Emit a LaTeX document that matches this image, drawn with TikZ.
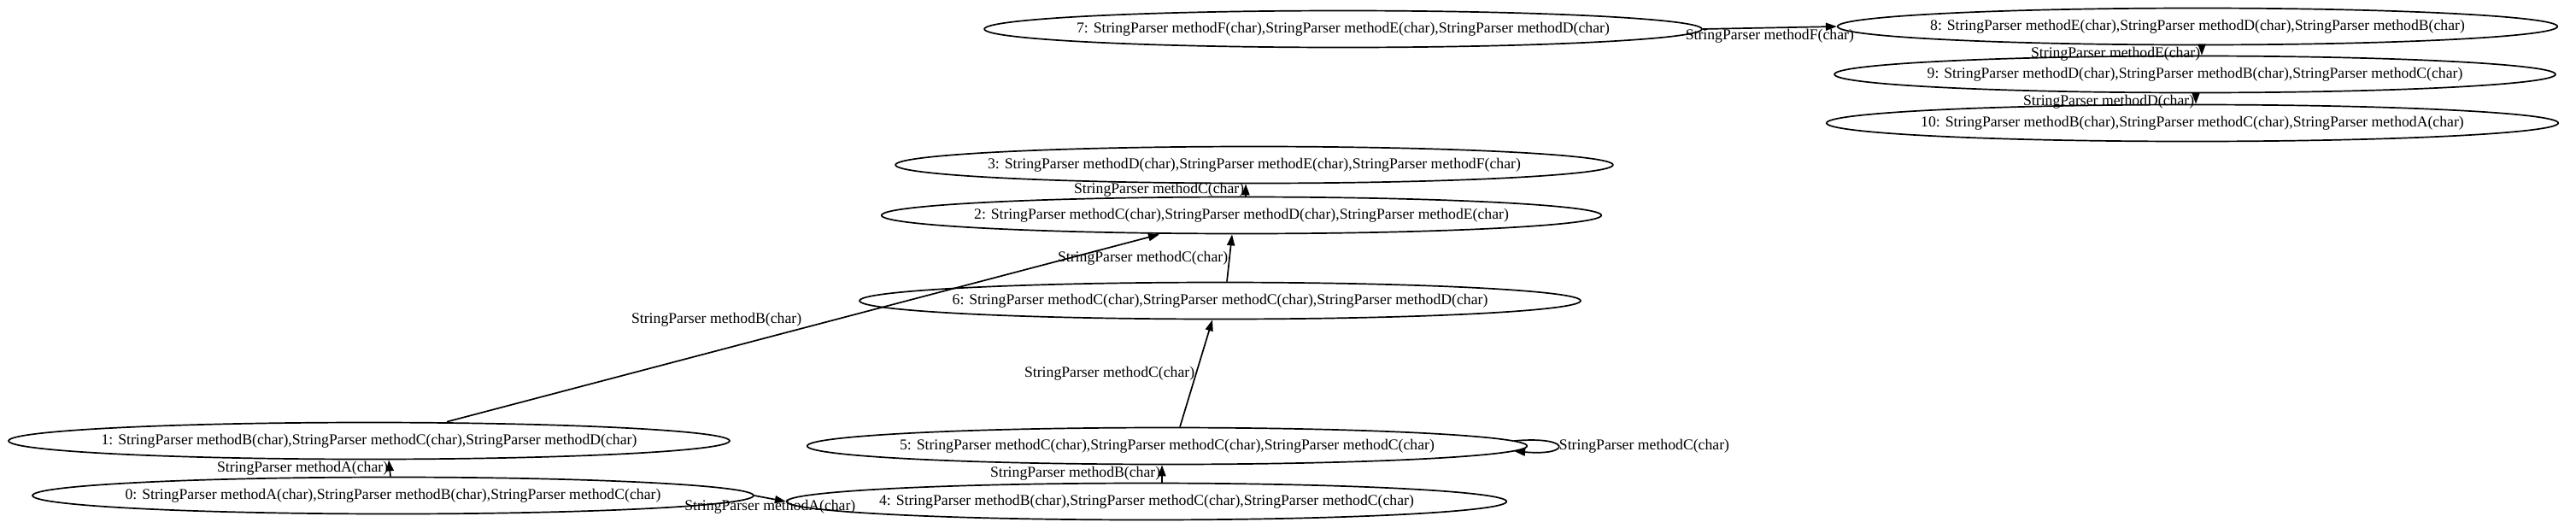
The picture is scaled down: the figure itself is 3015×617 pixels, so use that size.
\documentclass[tikz,border=0pt]{standalone}
\usepackage{fontspec}
\setmainfont{Liberation Serif}
\usetikzlibrary{arrows.meta,shapes.geometric}

\begin{document}
\begin{tikzpicture}[x=0.5pt,y=-0.5pt,line width=0.85pt,>={Triangle[length=6.5pt,width=4.5pt]},
  state/.style={draw,ellipse,minimum height=21.5pt,inner xsep=-7.5pt,inner ysep=0pt,font=\fontsize{8.85}{10}\selectfont},
  lbl/.style={inner sep=0.5pt,font=\fontsize{8.85}{10}\selectfont}]
  \useasboundingbox (0,0) rectangle (3015,617);
  % states
  \node[state] (n0) at (460,580) {0: StringParser methodA(char),StringParser methodB(char),StringParser methodC(char)};
  \node[state] (n1) at (432,516) {1: StringParser methodB(char),StringParser methodC(char),StringParser methodD(char)};
  \node[state] (n2) at (1453,252) {2: StringParser methodC(char),StringParser methodD(char),StringParser methodE(char)};
  \node[state] (n3) at (1468,193) {3: StringParser methodD(char),StringParser methodE(char),StringParser methodF(char)};
  \node[state] (n4) at (1342,587) {4: StringParser methodB(char),StringParser methodC(char),StringParser methodC(char)};
  \node[state] (n5) at (1366,522) {5: StringParser methodC(char),StringParser methodC(char),StringParser methodC(char)};
  \node[state] (n6) at (1428,352) {6: StringParser methodC(char),StringParser methodC(char),StringParser methodD(char)};
  \node[state] (n7) at (1572,34) {7: StringParser methodF(char),StringParser methodE(char),StringParser methodD(char)};
  \node[state] (n8) at (2572,31) {8: StringParser methodE(char),StringParser methodD(char),StringParser methodB(char)};
  \node[state] (n9) at (2569,87) {9: StringParser methodD(char),StringParser methodB(char),StringParser methodC(char)};
  \node[state] (n10) at (2566,144) {10: StringParser methodB(char),StringParser methodC(char),StringParser methodA(char)};
  % transitions
  \draw[->] ([xshift=-1.5pt]n0.north) -- node[lbl,left]{StringParser methodA(char)} ([xshift=11.5pt]n1.south);
  \draw[->] (n0.east) -- node[lbl,below]{StringParser methodA(char)} (n4.west);
  \draw[->] ([xshift=9pt]n4.north) -- node[lbl,left]{StringParser methodB(char)} ([xshift=-3pt]n5.south);
  \draw[->] ([xshift=-8pt,yshift=3pt]n5.east) .. controls +(34pt,3pt) and +(34pt,-3pt) .. node[lbl,right]{StringParser methodC(char)} ([xshift=-8pt,yshift=-3pt]n5.east);
  \draw[->] ([xshift=7.5pt]n5.north) -- node[lbl,left]{StringParser methodC(char)} ([xshift=-4.5pt]n6.south);
  \draw[->] ([xshift=45.5pt]n1.north) -- node[lbl,above left]{StringParser methodB(char)} ([xshift=-48pt]n2.south);
  \draw[->] ([xshift=4pt]n6.north) -- node[lbl,left]{StringParser methodC(char)} ([xshift=-5.5pt]n2.south);
  \draw[->] ([xshift=2.5pt]n2.north) -- node[lbl,left]{StringParser methodC(char)} ([xshift=-5pt]n3.south);
  \draw[->] (n7.east) -- node[lbl,below]{StringParser methodF(char)} (n8.west);
  \draw[->] ([xshift=2.5pt]n8.south) -- node[lbl,left,yshift=-2pt]{StringParser methodE(char)} ([xshift=4pt]n9.north);
  \draw[->] ([xshift=0.5pt]n9.south) -- node[lbl,left,yshift=-2pt]{StringParser methodD(char)} ([xshift=2pt]n10.north);
\end{tikzpicture}
\end{document}
